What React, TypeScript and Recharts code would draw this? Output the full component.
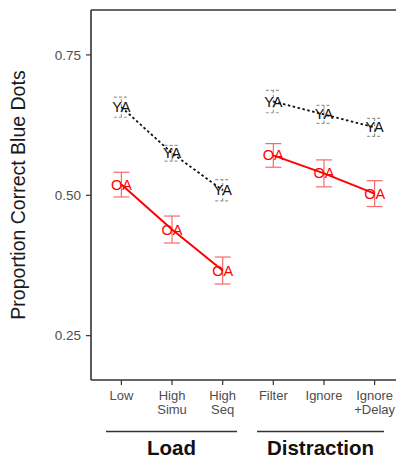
import { ComposedChart, Line, XAxis, YAxis, ErrorBar, ReferenceLine } from 'recharts';

const categories = ['Low', 'High\nSimu', 'High\nSeq', 'Filter', 'Ignore', 'Ignore\n+Delay'];
const groupNames = ['Load', 'Distraction'];
const groupOf = [0, 0, 0, 1, 1, 1];

// young adults (YA) and older adults (OA): mean and standard error
const yaMean = [0.657, 0.575, 0.509, 0.667, 0.644, 0.621];
const yaSe = [0.018, 0.014, 0.019, 0.02, 0.016, 0.016];
const oaMean = [0.519, 0.439, 0.366, 0.571, 0.539, 0.503];
const oaSe = [0.022, 0.024, 0.024, 0.021, 0.024, 0.023];

const yTicks = [0.25, 0.5, 0.75];
const yDomain: [number, number] = [0.171, 0.83];

const FONT = '"Liberation Sans", Arial, sans-serif';
const W = 420;
const H = 459;
const LEFT = 91;
const TOP = 10;
const RIGHT = 15;
const AXIS = '#333333';
const RED = '#ff0000';

// one row per condition, plus an empty row between groups so the lines break
const rows: any[] = [];
categories.forEach((c, i) => {
  if (i > 0 && groupOf[i] !== groupOf[i - 1]) {
    rows.push({ x: i + 0.5, ya: null, oa: null });
  }
  rows.push({ x: i + 1, name: c, ya: yaMean[i], yaErr: yaSe[i], oa: oaMean[i], oaErr: oaSe[i] });
});

const groupSpans = [
  [106, 237],
  [257, 384],
];

const labelDot = (label: string, color: string, key: string) => (p: any) => {
  const k = `${key}-${p.index}`;
  if (p.cy == null || p.payload?.[key] == null) return <g key={k} />;
  return (
    <text
      key={k}
      x={p.cx}
      y={p.cy}
      textAnchor="middle"
      dominantBaseline="central"
      fontSize={14.5}
      fontFamily={FONT}
      fill={color}
    >
      {label}
    </text>
  );
};

const XTick = (props: any) => {
  const lines = categories[props.payload.value - 1]?.split('\n') ?? [];
  return (
    <text x={props.x} y={props.y} textAnchor="middle" fontSize={13} fontFamily={FONT} fill="#4d4d4d">
      {lines.map((l, i) => (
        <tspan key={i} x={props.x} dy={i === 0 ? 13 : 14}>
          {l}
        </tspan>
      ))}
    </text>
  );
};

export default function App() {
  return (
    <div style={{ position: 'relative', width: 396, height: 459, overflow: 'hidden', background: '#fff' }}>
      <style>{'body{margin:0}'}</style>
      <ComposedChart width={W} height={H} data={rows} margin={{ top: TOP, right: RIGHT, left: 0, bottom: 39 }}>
        <XAxis
          dataKey="x"
          type="number"
          domain={[0.4, 6.6]}
          ticks={[1, 2, 3, 4, 5, 6]}
          allowDataOverflow
          height={40}
          tick={<XTick />}
          tickSize={5}
          tickMargin={2}
          axisLine={{ stroke: AXIS, strokeWidth: 1.6 }}
          tickLine={{ stroke: AXIS, strokeWidth: 1.2 }}
        />
        <YAxis
          type="number"
          domain={yDomain}
          ticks={yTicks}
          allowDataOverflow
          width={LEFT}
          tickFormatter={(v: number) => v.toFixed(2)}
          tick={{ fontSize: 13.5, fill: '#4d4d4d', fontFamily: FONT }}
          tickSize={5}
          tickMargin={5}
          axisLine={{ stroke: AXIS, strokeWidth: 1.6 }}
          tickLine={{ stroke: AXIS, strokeWidth: 1.2 }}
        />
        <ReferenceLine y={yDomain[1]} stroke={AXIS} strokeWidth={1.6} ifOverflow="visible" />
        <Line
          dataKey="ya"
          stroke="#111111"
          strokeWidth={1.8}
          strokeDasharray="2.5 2.5"
          connectNulls={false}
          dot={labelDot('YA', '#111111', 'ya')}
          activeDot={false}
          isAnimationActive={false}
        >
          <ErrorBar dataKey="yaErr" width={7.5} stroke="#9a9a9a" strokeWidth={1.2} strokeDasharray="3 2" />
        </Line>
        <Line
          dataKey="oa"
          stroke={RED}
          strokeWidth={2}
          connectNulls={false}
          dot={labelDot('OA', RED, 'oa')}
          activeDot={false}
          isAnimationActive={false}
        >
          <ErrorBar dataKey="oaErr" width={8} stroke="#f46a6a" strokeWidth={1.2} />
        </Line>
      </ComposedChart>
      <svg width={396} height={459} style={{ position: 'absolute', left: 0, top: 0, pointerEvents: 'none' }}>
        <text
          x={25}
          y={195}
          transform="rotate(-90 25 195)"
          textAnchor="middle"
          fontSize={19.5}
          fontFamily={FONT}
          fill="#1a1a1a"
        >
          Proportion Correct Blue Dots
        </text>
        {groupNames.map((g, i) => {
          const [a, b] = groupSpans[i];
          return (
            <g key={g}>
              <line x1={a} x2={b} y1={431.5} y2={431.5} stroke={AXIS} strokeWidth={1.6} />
              <text
                x={(a + b) / 2}
                y={455}
                textAnchor="middle"
                fontSize={20.5}
                fontWeight="bold"
                fontFamily={FONT}
                fill="#111111"
              >
                {g}
              </text>
            </g>
          );
        })}
      </svg>
    </div>
  );
}
